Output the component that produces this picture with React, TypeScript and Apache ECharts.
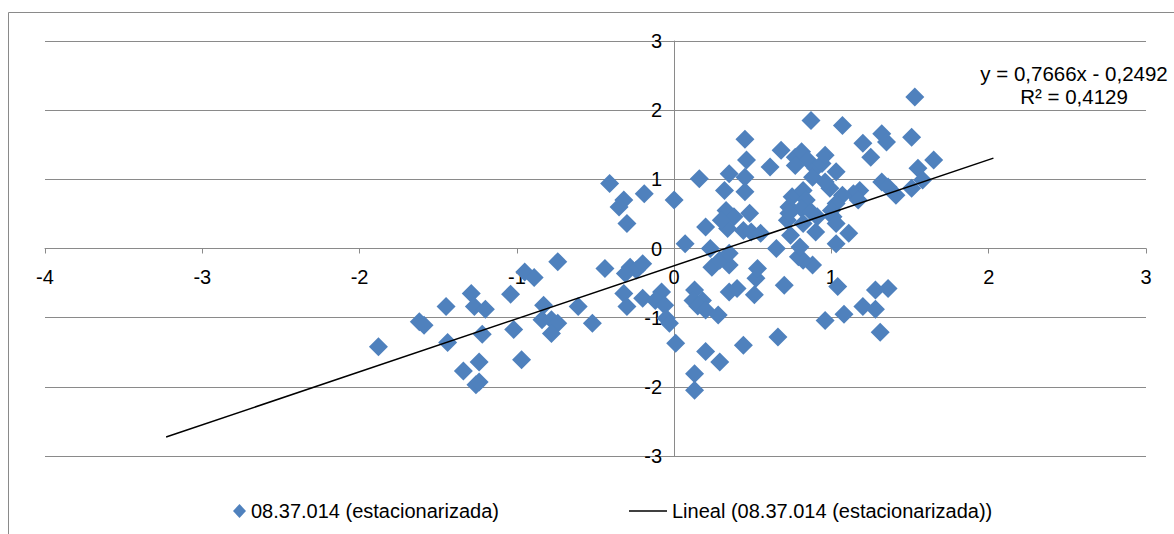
import React, { useEffect, useRef } from "react";
import * as echarts from "echarts";

const seriesName = "08.37.014 (estacionarizada)";
const trendName = "Lineal (08.37.014 (estacionarizada))";

// scatter points [x, y]
const points: [number, number][] = [
  [-1.88, -1.42], [-1.62, -1.06], [-1.59, -1.11], [-1.45, -0.84], [-1.44, -1.36], [-1.29, -0.65],
  [-1.27, -0.84], [-1.2, -0.88], [-1.22, -1.24], [-1.24, -1.64], [-1.34, -1.77], [-1.26, -1.97],
  [-1.24, -1.93], [-1.04, -0.66], [-1.02, -1.17], [-0.97, -1.61], [-0.95, -0.34], [-0.89, -0.42],
  [-0.74, -0.19], [-0.83, -0.82], [-0.84, -1.03], [-0.78, -1.03], [-0.74, -1.08], [-0.78, -1.23],
  [-0.61, -0.84], [-0.52, -1.08], [-0.44, -0.29], [-0.41, 0.94], [-0.32, 0.7], [-0.35, 0.6],
  [-0.3, 0.36], [-0.19, 0.79], [0.0, 0.7], [0.07, 0.07], [-0.28, -0.27], [-0.24, -0.31],
  [-0.2, -0.22], [-0.31, -0.36], [-0.32, -0.65], [-0.3, -0.84], [-0.2, -0.72], [-0.08, -0.63],
  [-0.12, -0.75], [-0.06, -0.82], [-0.05, -1.01], [-0.03, -1.08], [0.01, -1.37],
  [0.13, -0.6], [0.12, -0.75], [0.18, -0.75], [0.15, -0.83], [0.2, -0.89], [0.28, -0.96],
  [0.2, -1.49], [0.29, -1.64], [0.44, -1.4], [0.66, -1.28], [0.13, -1.81], [0.13, -2.05],
  [0.35, -0.63], [0.4, -0.58], [0.51, -0.67], [0.7, -0.53], [0.52, -0.43], [0.53, -0.29],
  [0.24, -0.27], [0.35, -0.24], [0.29, -0.17], [0.23, 0.0], [0.35, -0.07], [0.96, -1.04],
  [1.08, -0.95], [1.04, -0.55], [1.2, -0.84], [1.28, -0.88], [1.28, -0.6], [1.36, -0.58],
  [1.31, -1.21], [0.88, -0.24], [0.82, -0.17], [0.79, -0.12], [0.8, 0.02], [0.65, 0.0],
  [0.16, 1.01], [0.35, 1.08], [0.45, 1.03], [0.32, 0.84], [0.45, 0.82], [0.46, 1.28],
  [0.45, 1.58], [0.61, 1.18], [0.33, 0.55], [0.38, 0.46], [0.48, 0.51], [0.34, 0.29],
  [0.44, 0.26], [0.2, 0.31], [0.49, 0.24], [0.55, 0.22], [0.3, 0.41],
  [0.68, 1.42], [0.77, 1.32], [0.81, 1.4], [0.85, 1.28], [0.77, 1.2], [0.9, 1.16],
  [0.88, 1.03], [0.94, 1.23], [0.96, 1.35], [1.03, 1.11], [0.99, 0.87], [0.96, 0.96],
  [0.87, 1.85], [1.07, 1.78], [1.2, 1.52], [1.32, 1.66], [1.35, 1.54], [1.51, 1.61],
  [1.53, 2.19], [1.25, 1.32], [1.65, 1.28], [1.55, 1.16], [1.58, 0.99], [1.51, 0.87],
  [1.41, 0.77], [1.32, 0.96], [1.36, 0.89], [1.18, 0.84], [1.14, 0.79], [1.07, 0.77],
  [1.03, 0.65], [1.17, 0.7], [1.11, 0.22], [1.03, 0.07], [1.01, 0.46], [1.0, 0.55],
  [0.9, 0.24], [0.75, 0.75], [0.82, 0.84], [0.84, 0.7], [0.73, 0.6], [0.81, 0.58],
  [0.87, 0.53], [0.91, 0.46], [0.72, 0.41], [0.82, 0.36], [0.74, 0.19], [0.73, 0.51],
  [1.03, 0.36],
];

// trend line: y = 0,7666x - 0,2492 drawn over this x span
const trendSlope = 0.7666;
const trendIntercept = -0.2492;
const trendXs = [-3.23, 2.03];
const equationLines = ["y = 0,7666x - 0,2492", "R² = 0,4129"];

const xRange = { min: -4, max: 3, interval: 1 };
const yRange = { min: -3, max: 3, interval: 1 };

const W = 1174;
const H = 534;
const GRID = { left: 45, right: 28, top: 41, bottom: 78 };

export default function App() {
  const ref = useRef<HTMLDivElement>(null);
  useEffect(() => {
    if (!ref.current) return;
    const chart = echarts.init(ref.current, undefined, { renderer: "svg" });
    const font = "'Liberation Sans', Arial, sans-serif";
    const gray = "#8a8a8a";
    const trendData = trendXs.map((x) => [x, trendSlope * x + trendIntercept]);
    // shift axes so that they cross at the origin (as in the spreadsheet chart)
    const gw = W - GRID.left - GRID.right;
    const gh = H - GRID.top - GRID.bottom;
    const xAxisOffset = -(gh * (0 - yRange.min)) / (yRange.max - yRange.min);
    const yAxisOffset = -(gw * (0 - xRange.min)) / (xRange.max - xRange.min);
    chart.setOption({
      animation: false,
      backgroundColor: "#ffffff",
      textStyle: { fontFamily: font },
      grid: { ...GRID, containLabel: false },
      xAxis: {
        type: "value",
        position: "bottom",
        offset: xAxisOffset,
        min: xRange.min,
        max: xRange.max,
        interval: xRange.interval,
        axisLine: { onZero: false, lineStyle: { color: gray, width: 1 } },
        axisTick: { show: true, length: 5, lineStyle: { color: gray } },
        axisLabel: { color: "#000", fontSize: 20, margin: 18, fontFamily: font, hideOverlap: false },
        splitLine: { show: false },
      },
      yAxis: {
        type: "value",
        position: "left",
        offset: yAxisOffset,
        min: yRange.min,
        max: yRange.max,
        interval: yRange.interval,
        axisLine: { onZero: false, lineStyle: { color: gray, width: 1 } },
        axisTick: { show: true, length: 5, lineStyle: { color: gray } },
        axisLabel: { color: "#000", fontSize: 20, margin: 12, fontFamily: font, hideOverlap: false },
        splitLine: { show: true, lineStyle: { color: gray, width: 1 } },
      },
      legend: [
        {
          data: [{ name: seriesName, icon: "diamond" }],
          left: 228,
          top: 496,
          itemWidth: 13,
          itemHeight: 14,
          itemStyle: { opacity: 1 },
          textStyle: { fontSize: 20, color: "#000", fontFamily: font },
        },
        {
          data: [{ name: trendName, icon: "rect" }],
          left: 624,
          top: 496,
          itemWidth: 38,
          itemHeight: 1.5,
          textStyle: { fontSize: 20, color: "#000", fontFamily: font },
        },
      ],
      graphic: [
        {
          type: "rect",
          shape: { x: 8.5, y: 12.5, width: 1400, height: 800 },
          style: { fill: "none", stroke: gray, lineWidth: 1 },
          silent: true,
          z: -1,
        },
        {
          type: "text",
          x: 1074,
          y: 62,
          style: {
            text: equationLines.join("\n"),
            align: "center",
            fontSize: 20.5,
            lineHeight: 23,
            fontFamily: font,
            fill: "#000",
          },
        },
      ],
      series: [
        {
          name: seriesName,
          type: "scatter",
          data: points,
          symbol: "diamond",
          symbolSize: 19,
          itemStyle: { color: "#4F81BD", opacity: 1 },
          z: 2,
        },
        {
          name: trendName,
          type: "line",
          data: trendData,
          symbol: "none",
          color: "#000",
          lineStyle: { color: "#000", width: 1.5 },
          z: 3,
        },
      ],
    });
    return () => chart.dispose();
  }, []);
  return (
    <div
      ref={ref}
      style={{ position: "absolute", left: 0, top: 0, width: W, height: H }}
    />
  );
}
